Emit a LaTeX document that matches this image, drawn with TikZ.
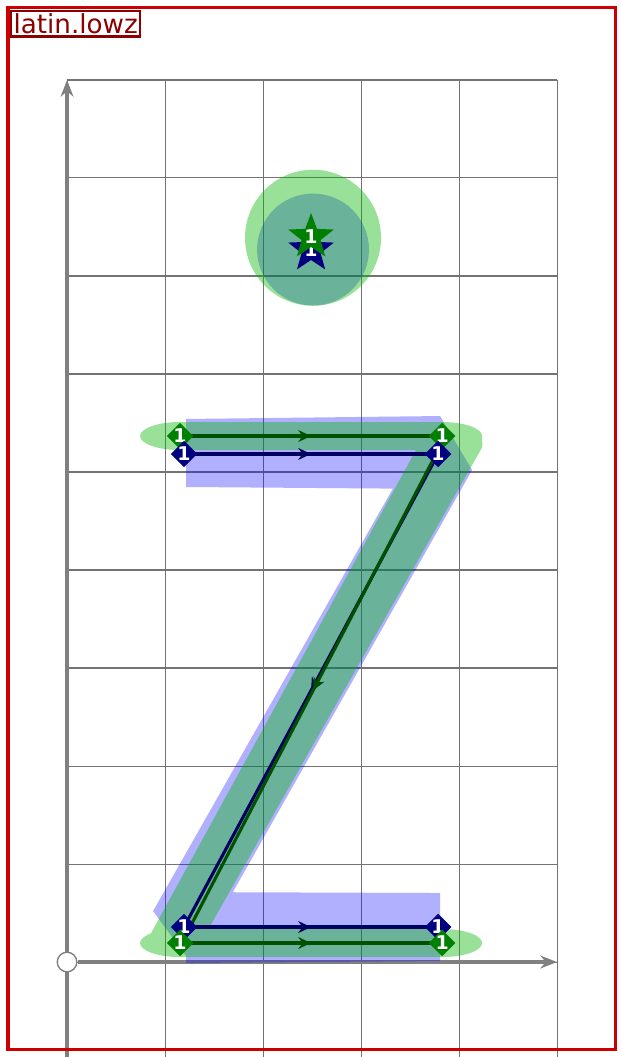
\documentclass[tikz,border=0pt]{standalone}
\usepackage{fontspec}
\setsansfont{DejaVu Sans}
\usetikzlibrary{shapes.geometric,arrows.meta,decorations.markings}
\definecolor{framered}{RGB}{204,0,0}
\definecolor{tagred}{RGB}{139,0,0}
\definecolor{gline}{RGB}{0,80,0}
\definecolor{gmark}{RGB}{0,128,0}
\definecolor{bline}{RGB}{0,0,96}
\definecolor{bmark}{RGB}{0,0,128}
\definecolor{gskin}{RGB}{0,180,0}
\definecolor{bskin}{RGB}{0,0,255}
\begin{document}
\begin{tikzpicture}
  \tikzset{gridline/.style={black!55,line width=0.3pt},
    axis/.style={gray,line width=1.2pt,-{Stealth[length=1.7mm,width=1.3mm]}},
    origin/.style={circle,draw=gray,fill=white,line width=0.4pt,minimum size=2mm,inner sep=0pt},
    gd/.style={diamond,fill=gmark,minimum size=2.4mm,inner sep=0pt,text=white,
      font=\sffamily\bfseries\fontsize{5.5}{5.5}\selectfont},
    bd/.style={gd,fill=bmark},
    gstar/.style={star,star points=5,star point ratio=2.4,fill=gmark,minimum size=4.9mm,
      inner sep=0pt,text=white,font=\sffamily\bfseries\fontsize{5.5}{5.5}\selectfont},
    bstar/.style={gstar,fill=bmark},
    mid/.style={postaction={decorate},decoration={markings,
      mark=at position 0.5 with {\arrow{Stealth[length=1.3mm,width=1.2mm]}}}},
    gpath/.style={gline,line width=0.9pt,mid},
    bpath/.style={bline,line width=0.9pt,mid},
    tagbox/.style={draw=tagred,text=tagred,line width=0.6pt,inner sep=0.5pt,
      minimum width=1.32cm,minimum height=0.26cm,font=\sffamily\fontsize{7.6}{8}\selectfont},
    bar/.style={x radius=0.408,y radius=0.143}}
  \useasboundingbox (-0.684,-0.969) rectangle (5.653,9.816);

  % grid and axes
  \draw[gridline] (0,-1) grid (5,9);
  \coordinate (ybot) at (0,-1);
  \coordinate (ytop) at (0,9);
  \coordinate (xend) at (5,0);
  \draw[axis] (ybot) -- (ytop);
  \node[origin] (o) at (0,0) {};
  \draw[axis] (o) -- (xend);

  % points of the two strokes
  \coordinate (G1) at (1.153,5.367); \coordinate (G2) at (3.827,5.367);
  \coordinate (G3) at (1.153,0.194); \coordinate (G4) at (3.827,0.194);
  \coordinate (D1) at (3.776,5.204); \coordinate (D2) at (1.245,0.337);
  \coordinate (B1) at (1.194,5.184); \coordinate (B2) at (3.786,5.184);
  \coordinate (B3) at (1.194,0.357); \coordinate (B4) at (3.786,0.357);

  % blue skin
  \begin{scope}[transparency group,opacity=0.31]
    \fill[bskin] (2.51,7.27) circle (0.571);
    \fill[bskin] (1.214,5.541) -- (3.806,5.571) -- (3.806,4.827) -- (1.214,4.847) -- cycle;
    \fill[bskin] (3.745,5.571) -- (3.806,5.571) -- (4.133,5.020) -- (1.276,-0.020) -- (0.878,0.520) -- cycle;
    \fill[bskin] (1.214,0.714) -- (3.806,0.704) -- (3.806,0.010) -- (1.214,-0.010) -- cycle;
  \end{scope}
  % green skin
  \begin{scope}[transparency group,opacity=0.4]
    \fill[gskin] (2.51,7.39) circle (0.694);
    \fill[gskin] (G1) ellipse [bar];
    \fill[gskin] (G2) ellipse [bar];
    \fill[gskin] (1.153,5.224) rectangle (3.827,5.510);
    \fill[gskin] (3.577,5.255) -- (3.827,5.367) -- (4.235,5.367) -- (4.238,5.255)
      -- (1.408,0.276) -- (0.847,0.276) -- cycle;
    \fill[gskin] (G3) ellipse [bar];
    \fill[gskin] (G4) ellipse [bar];
    \fill[gskin] (1.153,0.051) rectangle (3.827,0.337);
  \end{scope}

  \draw[bpath] (B1) -- (B2);
  \draw[bpath] (B2) -- (B3);
  \draw[bpath] (B3) -- (B4);
  \draw[gpath] (G1) -- (G2);
  \draw[gpath] (D1) -- (D2);
  \draw[gpath] (G3) -- (G4);

  \node[gd] (g1) at (G1) {1};
  \node[gd] (g2) at (G2) {1};
  \node[bd] (b1) at (B1) {1};
  \node[bd] (b2) at (B2) {1};
  \node[bd] (b3) at (B3) {1};
  \node[bd] (b4) at (B4) {1};
  \node[gd] (g3) at (G3) {1};
  \node[gd] (g4) at (G4) {1};

  % the dot
  \node[bstar] (bs) at (2.49,7.265) {1};
  \node[gstar] (gs) at (2.49,7.398) {1};

  \draw[framered,line width=0.9pt] (-0.602,-0.888) rectangle (5.592,9.735);
  \node[tagbox,anchor=north west] (tag) at (-0.582,9.714) {latin.lowz};
\end{tikzpicture}
\end{document}
